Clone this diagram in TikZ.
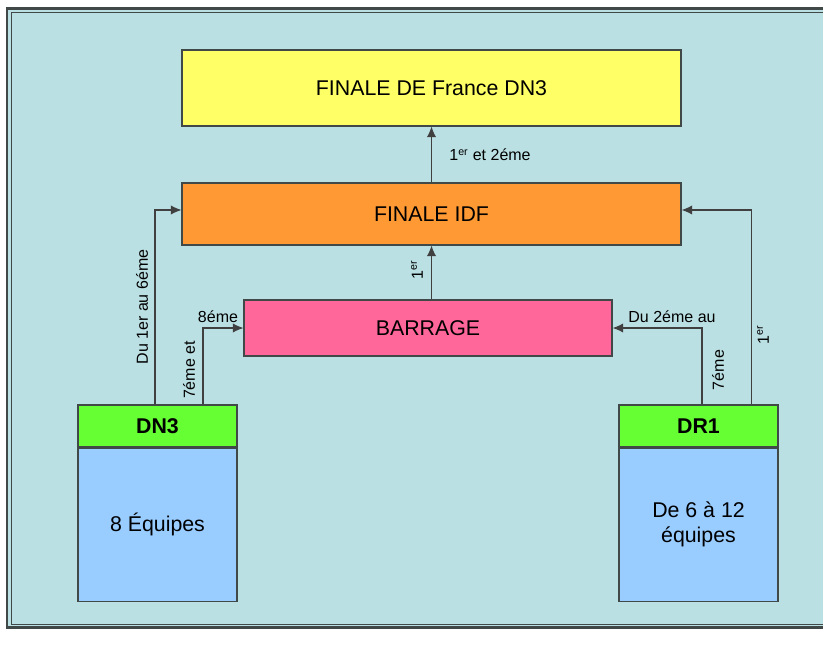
\documentclass[tikz,border=0pt]{standalone}
\usepackage{fontspec}
\setmainfont{Liberation Sans}
\usetikzlibrary{arrows.meta}

\definecolor{fondbleu}{RGB}{187,224,227}
\definecolor{jaune}{RGB}{255,255,102}
\definecolor{orange}{RGB}{255,153,51}
\definecolor{rose}{RGB}{255,102,153}
\definecolor{vert}{RGB}{102,255,51}
\definecolor{bleu}{RGB}{153,204,255}
\definecolor{trait}{RGB}{64,72,72}

\tikzset{boite/.style={draw=trait, line width=0.8pt, rectangle, inner sep=0pt, font=\fontsize{16}{19}\selectfont}}
\tikzset{lien/.style={-{Latex[length=8pt,width=7pt]}, line width=0.8pt, draw=black!75}}
\tikzset{etiq/.style={inner sep=0pt, font=\fontsize{12}{14}\selectfont}}

\begin{document}
\begin{tikzpicture}[x=0.75pt, y=-0.75pt]
        \useasboundingbox (0,0) rectangle (823,645);
        \clip (0,0) rectangle (823,645);

        % Cadre
        \draw[draw=trait, line width=1.6pt, fill=fondbleu] (7,8.5) rectangle (850,627.5);
        \draw[draw=trait, line width=0.7pt] (11,12) rectangle (850,624);

        % Finales et barrage
        \node[boite, fill=jaune, minimum width=374.25pt, minimum height=57pt] (France) at (431.5,88) {FINALE DE France DN3};
        \node[boite, fill=orange, minimum width=374.25pt, minimum height=46.5pt] (IDF) at (431.5,214) {FINALE IDF};
        \node[boite, fill=rose, minimum width=276pt, minimum height=42pt] (Barrage) at (428,328) {BARRAGE};

        % DN3
        \node[boite, fill=vert, minimum width=119.25pt, minimum height=31.5pt] (DN3) at (157.5,426) {\textbf{DN3}};
        \node[boite, fill=bleu, minimum width=119.25pt, minimum height=114.75pt, anchor=north] (DN3eq) at (DN3.south) {8 Équipes};

        % DR1
        \node[boite, fill=vert, minimum width=119.25pt, minimum height=31.5pt] (DR1) at (698.5,426) {\textbf{DR1}};
        \node[boite, fill=bleu, minimum width=119.25pt, minimum height=114.75pt, anchor=north, align=center] (DR1eq) at (DR1.south) {De 6 à 12\\équipes};

        % Liens
        \draw[lien] (IDF.north) -- (France.south);
        \draw[lien] (Barrage.north -| IDF.south) -- (IDF.south);
        \draw[lien] ([xshift=-1.9pt]DN3.north) |- ([yshift=3pt]IDF.west);
        \draw[lien] ([xshift=34.1pt]DN3.north) |- (Barrage.west);
        \draw[lien] ([xshift=2.6pt]DR1.north) |- (Barrage.east);
        \draw[lien] ([xshift=39.4pt]DR1.north) |- ([yshift=3pt]IDF.east);

        % Etiquettes
        \node[etiq] (lFrance) at (490,155) {1\textsuperscript{er} et 2éme};
        \node[etiq, rotate=90] (lBarrage) at (417,270) {1\textsuperscript{er}};
        \node[etiq, rotate=90] (lDN3a) at (142,307) {Du 1er au 6éme};
        \node[etiq, rotate=90] (lDN3b) at (189,370) {7éme et};
        \node[etiq] (lDN3c) at (218,317) {8éme};
        \node[etiq] (lDR1a) at (672,317) {Du 2éme au};
        \node[etiq, rotate=90] (lDR1b) at (718,370) {7éme};
        \node[etiq, rotate=90] (lDR1c) at (763,335) {1\textsuperscript{er}};
\end{tikzpicture}
\end{document}
